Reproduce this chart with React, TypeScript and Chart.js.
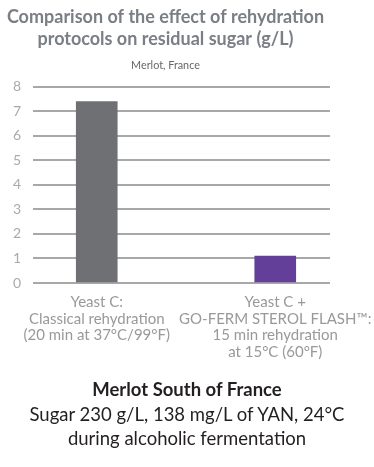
import React, { useEffect, useRef } from "react";
import { Chart, registerables } from "chart.js";

Chart.register(...registerables);

const categories: string[][] = [
  ["Yeast C:", "Classical rehydration", "(20 min at 37°C/99°F)"],
  ["Yeast C +", "GO-FERM STEROL FLASH™:", "15 min rehydration", "at 15°C (60°F)"],
];
const residualSugar: number[] = [7.4, 1.1];
const barColors: string[] = ["#6e7073", "#633f99"];
const titleLines: string[] = [
  "Comparison of the effect of rehydration",
  "protocols on residual sugar (g/L)",
];
const subtitleText = "Merlot, France";
const footerLines: string[] = [
  "Merlot South of France",
  "Sugar 230 g/L, 138 mg/L of YAN, 24°C",
  "during alcoholic fermentation",
];

const FONT = "Lato, 'Open Sans', sans-serif";

export default function App() {
  const ref = useRef<HTMLCanvasElement | null>(null);

  useEffect(() => {
    if (!ref.current) return;
    const chart = new Chart(ref.current, {
      type: "bar",
      data: {
        datasets: [
          {
            data: residualSugar.map((v, i) => ({ x: i, y: v })),
            backgroundColor: barColors,
            barThickness: 41,
          },
        ],
      },
      options: {
        animation: false,
        responsive: false,
        layout: { padding: { left: 1, right: 44, top: 3, bottom: 104 } },
        plugins: {
          legend: { display: false },
          tooltip: { enabled: false },
          title: {
            display: true,
            text: titleLines,
            color: "#7a7f86",
            font: { family: FONT, size: 18, weight: "bold", lineHeight: 1.22 },
            padding: { top: 3, bottom: 9 },
          },
          subtitle: {
            display: true,
            text: subtitleText,
            color: "#666",
            font: { family: FONT, size: 10.8 },
            padding: { bottom: 15 },
          },
        },
        scales: {
          x: {
            type: "linear",
            min: -0.3564,
            max: 1.3067,
            offset: false,
            grid: { display: false },
            border: { display: false },
            afterBuildTicks: (axis: any) => {
              axis.ticks = categories.map((_, i) => ({ value: i }));
            },
            afterFit: (axis: any) => {
              axis.paddingLeft = 0;
              axis.paddingRight = 0;
            },
            ticks: {
              color: "#999",
              font: { family: FONT, size: 15, lineHeight: 1.1 },
              padding: 3,
              maxRotation: 0,
              autoSkip: false,
              callback: (v: any) => categories[v as number] ?? "",
            },
          },
          y: {
            min: 0,
            max: 8,
            grid: { color: "#a8a8a8", lineWidth: 2, drawTicks: false },
            border: { display: false },
            ticks: {
              stepSize: 1,
              color: "#aaa",
              font: { family: FONT, size: 14 },
              padding: 12,
            },
          },
        },
      },
    } as any);
    return () => chart.destroy();
  }, []);

  return (
    <div style={{ position: "absolute", left: 0, top: 0, width: 374, height: 467, background: "#fff" }}>
      <canvas ref={ref} width={374} height={467} style={{ display: "block" }} />
      <div
        style={{
          position: "absolute",
          left: 0,
          top: 377,
          width: 374,
          textAlign: "center",
          color: "#231f20",
          fontFamily: FONT,
          fontSize: 18.5,
          lineHeight: "24.5px",
        }}
      >
        <div style={{ fontWeight: "bold" }}>{footerLines[0]}</div>
        <div>{footerLines[1]}</div>
        <div>{footerLines[2]}</div>
      </div>
    </div>
  );
}
